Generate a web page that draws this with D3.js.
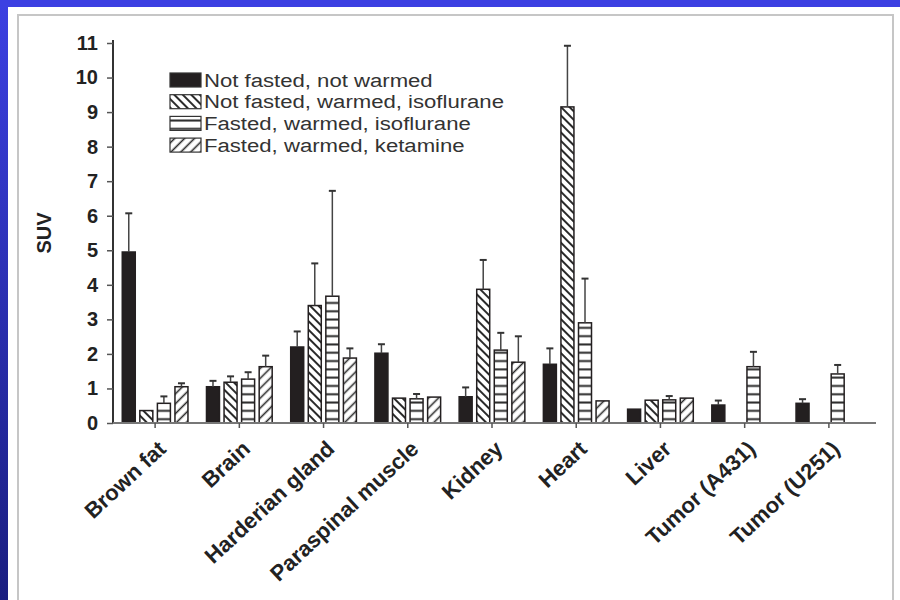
<!DOCTYPE html>
<html>
<head>
<meta charset="utf-8">
<script src="https://cdn.jsdelivr.net/npm/d3@7"></script>
<style>
  html, body { margin: 0; padding: 0; background: #fff; }
  svg { display: block; font-family: "Liberation Sans", Arial, sans-serif; }
</style>
</head>
<body>
<svg id="chart" width="900" height="600"></svg>
<script>
// Tissue categories (x axis)
const categories = ["Brown fat", "Brain", "Harderian gland", "Paraspinal muscle",
  "Kidney", "Heart", "Liver", "Tumor (A431)", "Tumor (U251)"];

// Series names (legend)
const seriesNames = ["Not fasted, not warmed", "Not fasted, warmed, isoflurane",
  "Fasted, warmed, isoflurane", "Fasted, warmed, ketamine"];

// Mean SUV per series (null = not measured)
const notFastedNotWarmed = [4.95, 1.05, 2.2, 2.02, 0.76, 1.7, 0.4, 0.52, 0.57];
const notFastedWarmedIso = [0.36, 1.18, 3.4, 0.72, 3.87, 9.15, 0.66, null, null];
const fastedWarmedIso    = [0.57, 1.27, 3.67, 0.7, 2.11, 2.9, 0.67, 1.63, 1.42];
const fastedWarmedKet    = [1.05, 1.63, 1.88, 0.75, 1.76, 0.64, 0.72, null, null];

// Standard deviations (upper error bars)
const sdNotFastedNotWarmed = [1.12, 0.17, 0.45, 0.26, 0.27, 0.46, 0.04, 0.13, 0.12];
const sdNotFastedWarmedIso = [0.02, 0.17, 1.22, 0.03, 0.85, 1.77, 0.03, null, null];
const sdFastedWarmedIso    = [0.2, 0.2, 3.05, 0.14, 0.5, 1.28, 0.11, 0.43, 0.26];
const sdFastedWarmedKet    = [0.1, 0.32, 0.28, 0.02, 0.75, 0.02, 0.03, null, null];

// Y tick values
const yTicks = [0, 1, 2, 3, 4, 5, 6, 7, 8, 9, 10, 11];

const means = [notFastedNotWarmed, notFastedWarmedIso, fastedWarmedIso, fastedWarmedKet];
const sds = [sdNotFastedNotWarmed, sdNotFastedWarmedIso, sdFastedWarmedIso, sdFastedWarmedKet];

const svg = d3.select("#chart");
const defs = svg.append("defs");

// Slide background: blue frame on top and left
const grad = defs.append("linearGradient").attr("id", "blueGrad")
  .attr("x1", 0).attr("y1", 0).attr("x2", 0).attr("y2", 1);
grad.append("stop").attr("offset", "0%").attr("stop-color", "#3c40e2");
grad.append("stop").attr("offset", "100%").attr("stop-color", "#1a1e80");
svg.append("rect").attr("x", 0).attr("y", 0).attr("width", 900).attr("height", 600).attr("fill", "url(#blueGrad)");
svg.append("rect").attr("x", 0).attr("y", 0).attr("width", 900).attr("height", 8).attr("fill", "#3c40e2");
svg.append("rect").attr("x", 8).attr("y", 7).attr("width", 892).attr("height", 593).attr("fill", "#ffffff");
svg.append("rect").attr("x", 18).attr("y", 15).attr("width", 875).attr("height", 600)
  .attr("fill", "none").attr("stroke", "#c6c6c6").attr("stroke-width", 2);

// Fill patterns
function stripePattern(id, size, angle, width) {
  const p = defs.append("pattern").attr("id", id)
    .attr("patternUnits", "userSpaceOnUse").attr("width", size).attr("height", size)
    .attr("patternTransform", `rotate(${angle})`);
  p.append("rect").attr("width", size).attr("height", size).attr("fill", "#fff");
  p.append("line").attr("x1", 0).attr("y1", size / 2).attr("x2", size).attr("y2", size / 2)
    .attr("stroke", "#2a2a2a").attr("stroke-width", width);
}
stripePattern("pBack", 6, 45, 2);
stripePattern("pHoriz", 8.3, 0, 2);
stripePattern("pFwd", 7, -45, 1.6);
const fills = ["#231f20", "url(#pBack)", "url(#pHoriz)", "url(#pFwd)"];

// Scales
const y = d3.scaleLinear().domain([0, 11]).range([423, 43]);
const x = d3.scaleBand().domain(categories).range([113, 871]);
const xi = d3.scaleBand().domain(d3.range(4))
  .range([x.bandwidth() * 0.11, x.bandwidth() * 0.89]).paddingInner(0.26);

// Y axis
const yAxis = svg.append("g").attr("transform", "translate(113,0)")
  .call(d3.axisLeft(y).tickValues(yTicks).tickSize(6).tickPadding(9));
yAxis.select(".domain").attr("stroke", "#333").attr("stroke-width", 2).attr("d", "M0,423V40");
yAxis.selectAll(".tick line").attr("stroke", "#555").attr("stroke-width", 1.5);
yAxis.selectAll("text").attr("font-size", 20).attr("font-weight", "bold").attr("fill", "#222")
  .attr("font-family", "Liberation Sans, Arial, sans-serif");

// Y axis title
svg.append("text").attr("transform", "translate(51,233) rotate(-90)")
  .attr("text-anchor", "middle").attr("font-size", 20).attr("font-weight", "bold")
  .attr("fill", "#222").text("SUV");

// Bars
const rows = [];
categories.forEach((c, ci) => {
  means.forEach((arr, si) => {
    if (arr[ci] !== null) rows.push({ c, si, v: arr[ci], sd: sds[si][ci] });
  });
});

const g = svg.append("g");
g.selectAll("rect.bar").data(rows).join("rect").attr("class", "bar")
  .attr("x", d => x(d.c) + xi(d.si))
  .attr("y", d => y(d.v))
  .attr("width", xi.bandwidth())
  .attr("height", d => y(0) - y(d.v))
  .attr("fill", d => fills[d.si])
  .attr("stroke", "#231f20").attr("stroke-width", 1.5);

// Error bars (upper only)
const eb = g.selectAll("g.err").data(rows.filter(d => d.sd && d.sd > 0.05)).join("g").attr("class", "err");
eb.append("line")
  .attr("x1", d => x(d.c) + xi(d.si) + xi.bandwidth() / 2)
  .attr("x2", d => x(d.c) + xi(d.si) + xi.bandwidth() / 2)
  .attr("y1", d => y(d.v)).attr("y2", d => y(d.v + d.sd))
  .attr("stroke", "#444").attr("stroke-width", 1.5);
eb.append("line")
  .attr("x1", d => x(d.c) + xi(d.si) + xi.bandwidth() / 2 - 3.5)
  .attr("x2", d => x(d.c) + xi(d.si) + xi.bandwidth() / 2 + 3.5)
  .attr("y1", d => y(d.v + d.sd)).attr("y2", d => y(d.v + d.sd))
  .attr("stroke", "#333").attr("stroke-width", 2);

// X axis
const xAxis = svg.append("g").attr("transform", "translate(0,423)")
  .call(d3.axisBottom(x).tickSize(5).tickSizeOuter(0));
xAxis.select(".domain").attr("stroke", "#777").attr("stroke-width", 2).attr("d", "M113,0H876");
xAxis.selectAll(".tick line").attr("stroke", "#555").attr("stroke-width", 1.5);
xAxis.selectAll(".tick text")
  .attr("font-size", 22).attr("font-weight", "bold").attr("fill", "#222")
  .attr("font-family", "Liberation Sans, Arial, sans-serif")
  .attr("text-anchor", "end")
  .attr("transform", "translate(7,22) rotate(-43)")
  .attr("y", 0).attr("dy", "0.35em");

// Legend
const legend = svg.append("g").attr("transform", "translate(170,73)");
seriesNames.forEach((name, i) => {
  const row = legend.append("g").attr("transform", `translate(0,${i * 21.7})`);
  row.append("rect").attr("width", 31).attr("height", 14)
    .attr("fill", fills[i]).attr("stroke", "#333").attr("stroke-width", 1.2);
  row.append("text").attr("transform", "translate(34,13.5) scale(1.23,1)")
    .attr("font-size", 18).attr("fill", "#333").text(name);
});
</script>
</body>
</html>
